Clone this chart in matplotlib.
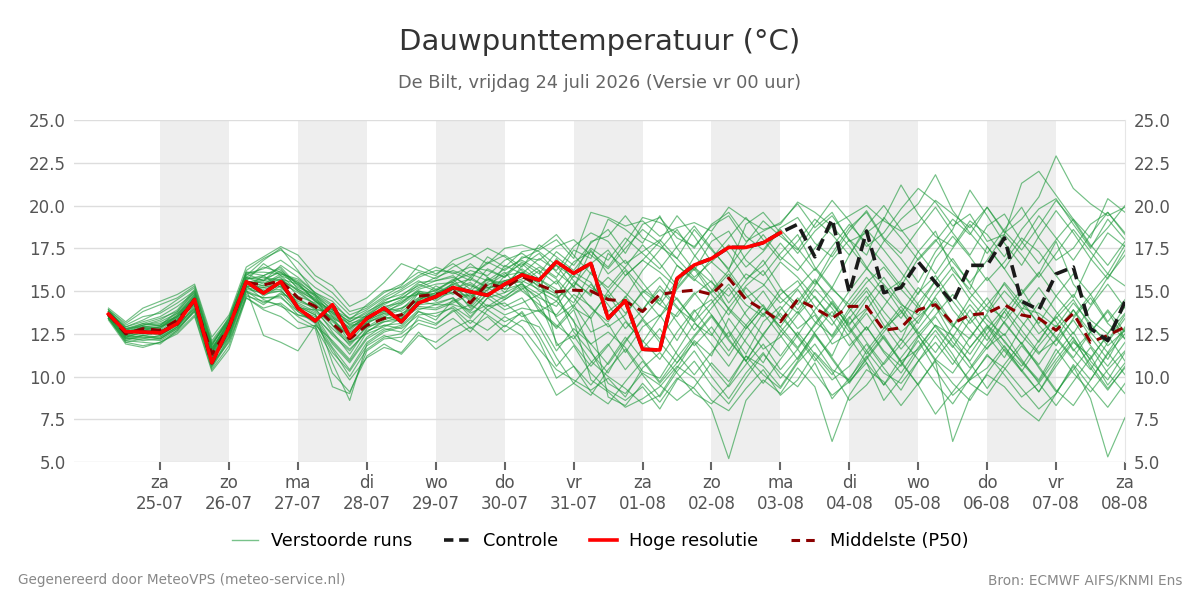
import pandas as pd
import matplotlib
matplotlib.use('Agg')
import matplotlib.pyplot as plt
from matplotlib.lines import Line2D

# tijdas: 6-uurlijkse stappen vanaf vr 24-07 06 uur
times = pd.date_range('2026-07-24 06:00', '2026-08-08 00:00', freq='6h')
days = pd.date_range('2026-07-25', '2026-08-08', freq='D')
weekday_nl = ['ma', 'di', 'wo', 'do', 'vr', 'za', 'zo']

hires = [13.65, 12.62, 12.6, 12.55, 13.1, 14.5, 10.8, 12.9, 15.55, 14.87,
         15.55, 14.0, 13.25, 14.2, 12.33, 13.4, 14.0, 13.2, 14.3, 14.67,
         15.2, 14.96, 14.75, 15.4, 15.94, 15.64, 16.71, 16.03, 16.62, 13.4,
         14.43, 11.59, 11.55, 15.74, 16.52, 16.9, 17.55, 17.55, 17.82, 18.41]

controle = [13.65, 12.62, 12.6, 12.55, 13.1, 14.5, 10.8, 12.9, 15.55, 14.87,
            15.55, 14.0, 13.25, 14.2, 12.33, 13.4, 14.0, 13.2, 14.3, 14.67,
            15.2, 14.96, 14.75, 15.4, 15.94, 15.64, 16.71, 16.03, 16.62, 13.4,
            14.43, 11.59, 11.55, 15.74, 16.52, 16.9, 17.55, 17.55, 17.82, 18.41,
            18.9, 17.0, 19.2, 14.9, 18.5, 14.9, 15.2, 16.7, 15.5, 14.3,
            16.5, 16.5, 18.1, 14.4, 13.9, 16.0, 16.4, 12.8, 12.1, 14.4]

p50 = [13.65, 12.5, 12.8, 12.7, 13.3, 14.4, 11.3, 12.9, 15.5, 15.35,
       15.6, 14.6, 14.1, 13.1, 12.2, 13.0, 13.4, 13.6, 14.7, 14.8,
       15.0, 14.3, 15.45, 15.15, 15.85, 15.35, 14.95, 15.05, 15.0, 14.5,
       14.4, 13.8, 14.8, 14.95, 15.05, 14.8, 15.75, 14.5, 13.9, 13.2,
       14.5, 14.0, 13.4, 14.1, 14.1, 12.7, 12.85, 13.9, 14.2, 13.1,
       13.6, 13.7, 14.2, 13.6, 13.4, 12.7, 13.7, 12.0, 12.4, 12.9]

runs = [
    [13.8, 12.9, 13.2, 13.5, 14.1, 14.9, 11.7, 13.1, 15.8, 16.4, 16.1, 15.2, 14.8, 13.9, 13.2, 13.8, 14.3, 14.6, 15.2, 15.6,
     15.9, 15.1, 16.3, 15.8, 16.7, 16.0, 17.3, 16.5, 17.8, 18.6, 17.2, 18.9, 19.3, 18.1, 17.6, 18.8, 19.4, 17.9, 18.5, 19.0,
     20.1, 18.7, 19.6, 17.9, 18.4, 19.2, 21.2, 19.5, 18.2, 17.6, 19.1, 18.3, 17.0, 18.6, 19.8, 20.4, 18.9, 17.5, 19.2, 18.0],
    [13.5, 12.2, 12.4, 12.3, 12.9, 14.2, 10.9, 12.5, 15.2, 14.8, 15.0, 14.1, 13.6, 12.4, 11.5, 12.7, 13.0, 13.1, 14.2, 14.3,
     14.6, 13.8, 14.9, 14.5, 15.2, 14.0, 12.8, 13.9, 11.5, 9.6, 9.0, 10.2, 9.5, 8.6, 9.4, 10.8, 9.7, 11.2, 10.1, 9.3,
     10.8, 11.9, 10.4, 9.8, 11.5, 10.2, 9.6, 10.9, 12.4, 11.0, 9.8, 10.5, 11.8, 10.3, 9.1, 10.6, 12.0, 11.2, 9.5, 10.8],
    [13.9, 13.1, 13.8, 14.2, 14.6, 15.3, 12.1, 13.4, 16.2, 16.9, 17.4, 16.7, 15.6, 14.9, 13.8, 14.1, 14.9, 15.4, 16.1, 15.7,
     16.4, 16.9, 17.5, 17.0, 16.2, 15.4, 14.8, 16.1, 15.5, 13.8, 14.6, 16.2, 17.4, 18.6, 17.1, 15.9, 14.3, 15.6, 16.8, 15.2,
     13.9, 15.3, 16.8, 18.0, 16.4, 14.9, 15.6, 17.3, 18.5, 16.2, 15.1, 17.6, 16.3, 14.8, 16.0, 17.9, 15.4, 14.2, 15.8, 17.1],
    [13.4, 12.0, 11.8, 12.0, 12.6, 13.6, 10.4, 11.8, 14.8, 14.2, 14.9, 13.8, 13.2, 11.4, 10.3, 11.8, 12.4, 12.0, 13.5, 13.1,
     13.8, 14.2, 13.6, 12.9, 13.8, 12.4, 10.6, 11.8, 10.2, 9.2, 8.6, 9.4, 8.1, 9.8, 10.9, 9.5, 8.4, 9.9, 11.3, 10.2,
     9.4, 10.8, 8.7, 9.9, 11.2, 9.5, 10.7, 12.1, 10.4, 8.9, 9.8, 11.3, 10.1, 8.8, 9.6, 11.0, 12.3, 10.5, 9.2, 10.6],
    [13.7, 12.6, 12.9, 12.8, 13.6, 14.7, 11.5, 13.2, 15.7, 15.9, 16.3, 15.1, 14.4, 13.6, 12.6, 13.3, 13.7, 14.3, 15.0, 14.6,
     15.5, 16.2, 15.9, 16.8, 17.2, 16.5, 15.8, 17.4, 16.9, 19.2, 18.6, 17.8, 19.4, 17.5, 16.2, 17.9, 18.5, 16.8, 15.9, 17.2,
     18.3, 16.4, 15.2, 17.1, 18.6, 17.4, 16.1, 14.8, 16.9, 18.2, 17.0, 15.6, 16.7, 18.1, 17.3, 15.9, 14.6, 16.8, 18.4, 17.6],
    [13.6, 12.3, 12.6, 12.4, 13.0, 14.5, 11.0, 12.7, 15.3, 15.1, 15.4, 14.3, 13.8, 12.8, 11.9, 12.9, 13.2, 13.3, 14.5, 14.9,
     15.2, 14.0, 15.1, 15.6, 15.5, 16.2, 11.8, 12.4, 10.9, 10.0, 9.3, 8.4, 8.9, 10.5, 12.1, 11.2, 13.4, 12.0, 10.8, 12.6,
     13.8, 12.5, 11.2, 13.4, 14.7, 13.0, 11.6, 12.8, 14.1, 12.3, 13.9, 12.4, 11.1, 12.9, 14.3, 13.2, 11.5, 12.6, 13.8, 12.2],
    [14.0, 13.2, 14.0, 14.4, 14.8, 15.4, 12.3, 13.6, 16.4, 17.0, 17.6, 17.1, 15.9, 15.3, 14.1, 14.6, 15.5, 16.6, 16.2, 15.9,
     16.8, 17.2, 16.6, 17.5, 17.7, 17.3, 16.5, 15.8, 17.9, 18.2, 19.4, 18.1, 17.6, 16.9, 18.6, 17.4, 16.3, 17.8, 19.1, 18.2,
     17.4, 18.9, 20.3, 19.1, 17.6, 18.4, 19.8, 21.0, 20.2, 18.8, 19.5, 17.9, 18.3, 21.3, 22.0, 20.6, 19.2, 18.1, 20.4, 19.6],
    [13.5, 12.4, 12.3, 12.2, 12.8, 13.9, 10.6, 12.2, 14.9, 14.6, 14.7, 13.6, 13.4, 11.9, 10.8, 12.2, 12.8, 12.6, 13.8, 13.5,
     14.1, 13.4, 14.6, 13.9, 14.3, 14.8, 13.5, 14.2, 12.6, 13.1, 11.4, 12.9, 13.6, 12.1, 13.8, 14.5, 12.7, 11.3, 13.2, 14.1,
     12.8, 13.6, 11.9, 12.5, 13.7, 12.2, 10.9, 11.6, 13.0, 12.4, 11.3, 12.8, 14.0, 12.7, 11.4, 12.1, 13.3, 11.8, 10.6, 12.0],
    [13.8, 12.8, 13.1, 13.0, 13.8, 15.0, 11.9, 13.3, 16.0, 15.6, 16.5, 15.8, 14.9, 14.2, 13.4, 13.9, 14.6, 15.1, 15.8, 16.2,
     16.1, 15.6, 17.0, 16.4, 17.3, 17.5, 18.3, 17.1, 16.0, 15.2, 16.4, 17.7, 16.6, 15.3, 17.0, 18.4, 17.2, 15.7, 16.5, 17.8,
     16.6, 15.4, 17.2, 18.7, 19.6, 18.0, 16.9, 15.5, 17.3, 18.6, 20.9, 19.4, 17.8, 16.5, 18.2, 19.7, 18.4, 16.9, 15.7, 17.4],
    [13.4, 12.1, 12.0, 11.9, 12.7, 13.8, 10.7, 12.0, 14.6, 13.9, 13.5, 12.8, 13.0, 10.2, 9.1, 11.2, 11.9, 11.3, 12.4, 12.0,
     12.8, 13.3, 12.7, 13.5, 12.9, 11.6, 10.4, 9.8, 9.2, 9.9, 8.8, 10.5, 11.4, 10.2, 9.0, 8.4, 9.5, 11.2, 10.6, 9.4,
     10.9, 12.4, 11.1, 9.7, 10.8, 8.6, 9.9, 11.5, 12.7, 11.3, 9.6, 8.9, 10.4, 11.8, 10.6, 9.2, 8.3, 9.8, 11.4, 10.1],
    [13.6, 12.5, 12.7, 12.9, 13.4, 14.6, 11.2, 12.8, 15.6, 16.6, 15.9, 15.0, 14.5, 13.2, 12.4, 13.1, 13.6, 14.0, 14.4, 15.3,
     14.8, 15.4, 14.7, 15.9, 16.1, 15.2, 16.9, 15.6, 14.7, 17.2, 16.3, 15.1, 14.4, 16.5, 15.7, 14.9, 16.0, 14.6, 15.3, 16.7,
     15.8, 14.6, 13.5, 15.0, 16.3, 15.4, 14.2, 13.6, 15.1, 16.4, 14.9, 13.8, 15.5, 14.3, 13.1, 14.7, 16.0, 14.8, 13.2, 14.5],
    [13.7, 12.7, 13.0, 13.1, 13.5, 14.4, 11.4, 13.0, 15.4, 15.2, 15.5, 14.9, 14.2, 13.4, 12.9, 13.4, 14.0, 14.5, 15.4, 15.0,
     15.7, 14.6, 15.5, 16.1, 15.0, 14.2, 13.6, 14.8, 14.1, 12.9, 13.6, 15.0, 14.2, 13.5, 14.8, 15.6, 13.9, 12.8, 14.0, 13.3,
     14.6, 13.2, 12.4, 14.0, 15.2, 13.8, 12.6, 13.5, 14.4, 13.0, 12.2, 13.7, 15.0, 13.9, 12.5, 13.4, 14.5, 12.9, 12.1, 13.6],
    [13.9, 12.7, 12.5, 12.6, 13.2, 14.3, 11.1, 12.6, 15.1, 12.4, 12.0, 11.5, 13.0, 12.1, 11.0, 12.6, 13.3, 13.7, 14.1, 14.0,
     14.4, 14.9, 14.1, 14.7, 15.3, 14.6, 14.1, 15.5, 14.8, 15.8, 14.9, 13.9, 15.1, 14.0, 13.2, 14.3, 15.4, 14.2, 13.5, 14.8,
     15.6, 14.1, 13.0, 14.5, 15.8, 14.6, 13.4, 14.9, 15.9, 14.4, 13.1, 14.2, 15.4, 14.0, 13.7, 12.9, 14.3, 13.1, 11.8, 12.7],
    [13.5, 12.3, 12.6, 12.5, 13.1, 14.6, 11.3, 12.9, 15.6, 14.7, 15.3, 14.2, 13.7, 10.8, 8.6, 11.9, 12.6, 12.9, 13.8, 13.3,
     14.5, 13.7, 14.2, 13.6, 14.0, 13.8, 14.4, 13.3, 9.8, 9.1, 8.2, 8.7, 9.4, 10.6, 9.9, 8.6, 8.0, 9.3, 10.4, 8.9,
     9.8, 11.4, 10.3, 8.6, 9.5, 10.8, 12.2, 11.0, 9.6, 8.4, 9.9, 11.2, 10.5, 9.3, 8.1, 9.0, 10.7, 9.4, 8.2, 9.6],
    [13.6, 12.6, 13.0, 13.3, 13.9, 15.1, 11.8, 13.5, 16.1, 15.9, 15.2, 14.4, 14.0, 13.5, 12.8, 13.6, 14.4, 15.0, 15.6, 15.1,
     15.6, 16.6, 15.8, 15.1, 16.5, 17.2, 16.1, 15.3, 16.6, 17.4, 15.9, 16.8, 17.9, 19.4, 18.2, 16.7, 15.8, 17.1, 18.3, 17.0,
     16.2, 17.5, 18.8, 17.6, 16.3, 17.9, 19.2, 20.1, 21.8, 19.7, 18.4, 17.2, 18.6, 19.9, 18.1, 16.8, 17.5, 18.9, 19.6, 18.3],
    [13.4, 12.2, 12.2, 12.4, 13.0, 14.0, 10.8, 12.4, 15.0, 14.3, 14.8, 14.6, 13.9, 13.0, 12.0, 12.5, 12.9, 13.4, 14.0, 13.9,
     14.3, 14.8, 13.9, 14.5, 15.1, 15.7, 14.9, 12.6, 11.4, 10.2, 12.0, 13.4, 14.6, 13.2, 11.8, 12.9, 11.5, 13.0, 14.2, 12.7,
     11.6, 13.1, 14.4, 12.8, 11.3, 12.6, 13.9, 12.4, 11.0, 10.2, 11.7, 13.0, 12.1, 10.8, 9.7, 11.3, 12.6, 10.9, 9.8, 11.4],
    [13.8, 12.9, 13.3, 13.8, 14.5, 15.2, 12.0, 13.3, 16.0, 16.3, 16.8, 16.1, 15.2, 14.6, 13.6, 14.0, 14.7, 15.3, 16.5, 16.0,
     16.6, 15.9, 16.6, 17.1, 16.4, 17.7, 17.0, 16.2, 17.5, 16.8, 18.1, 17.2, 16.3, 17.6, 18.8, 17.5, 16.2, 18.9, 19.6, 18.4,
     17.2, 18.5, 19.4, 18.0, 17.1, 19.3, 18.1, 16.8, 17.9, 19.2, 18.3, 19.9, 18.5, 17.4, 18.8, 20.3, 19.1, 17.6, 18.7, 20.0],
    [13.3, 11.9, 11.7, 12.0, 12.5, 13.5, 10.3, 11.6, 14.6, 14.0, 14.3, 13.5, 12.9, 11.2, 9.8, 11.1, 11.7, 11.4, 12.6, 11.6,
     12.3, 12.9, 12.1, 13.0, 12.4, 10.9, 8.9, 9.6, 10.8, 11.9, 10.4, 11.6, 12.8, 11.3, 10.1, 11.4, 12.6, 10.9, 9.6, 11.0,
     12.4, 11.1, 9.8, 10.6, 11.9, 10.5, 9.2, 10.9, 12.0, 10.7, 12.3, 13.6, 12.0, 10.9, 9.8, 11.6, 10.2, 9.1, 10.4, 11.5],
    [13.7, 12.5, 12.9, 12.6, 13.3, 14.2, 11.3, 12.9, 15.4, 15.6, 15.8, 14.7, 14.3, 13.3, 12.3, 13.2, 13.5, 13.9, 14.9, 14.5,
     15.3, 14.4, 15.7, 15.4, 16.3, 15.6, 16.5, 15.2, 17.4, 16.0, 16.8, 15.5, 14.2, 15.6, 16.4, 15.1, 14.0, 15.3, 16.2, 14.6,
     13.7, 15.1, 14.0, 12.6, 13.9, 15.3, 13.8, 12.5, 13.6, 14.8, 13.4, 12.1, 13.8, 15.1, 13.5, 12.2, 13.9, 12.6, 11.4, 12.9],
    [13.6, 12.4, 12.5, 12.7, 13.4, 14.3, 11.4, 13.1, 15.5, 15.3, 15.7, 15.4, 14.4, 13.7, 13.1, 13.4, 14.1, 14.3, 15.1, 15.4,
     15.5, 14.9, 15.3, 16.0, 16.6, 15.7, 15.1, 14.3, 16.1, 15.0, 13.7, 14.9, 15.8, 14.5, 13.3, 15.0, 16.2, 14.8, 13.6, 15.1,
     14.2, 15.6, 14.5, 13.1, 14.0, 12.8, 13.7, 15.2, 14.1, 12.9, 14.6, 15.8, 14.4, 13.2, 12.0, 13.6, 14.8, 13.3, 12.5, 14.1],
    [13.5, 12.3, 12.1, 12.2, 12.9, 14.1, 11.0, 12.3, 15.2, 15.0, 15.1, 13.9, 13.5, 12.5, 11.6, 12.6, 13.2, 13.5, 14.4, 14.2,
     14.6, 13.5, 14.6, 14.9, 15.4, 14.8, 15.6, 14.0, 13.4, 8.8, 8.3, 9.6, 8.5, 9.9, 9.3, 8.1, 5.2, 8.6, 9.8, 9.0,
     10.5, 9.4, 6.2, 8.9, 10.4, 9.7, 8.3, 9.6, 10.9, 6.2, 8.8, 10.1, 9.4, 8.2, 7.4, 9.0, 10.6, 8.7, 5.3, 7.6],
    [13.9, 13.0, 13.5, 13.7, 14.3, 15.0, 11.9, 13.2, 15.8, 15.4, 16.0, 15.6, 14.7, 13.9, 13.2, 13.7, 14.5, 14.8, 15.3, 15.8,
     16.2, 15.8, 16.7, 16.2, 16.9, 17.4, 18.0, 16.9, 19.6, 19.3, 18.8, 19.1, 18.2, 18.7, 19.0, 18.5, 19.9, 19.2, 18.6, 18.9,
     20.2, 19.6, 18.8, 19.4, 20.0, 19.1, 18.5, 19.0, 20.3, 19.5, 18.7, 19.9, 18.4, 19.2, 20.5, 22.9, 21.0, 20.1, 19.4, 19.9],
    [13.6, 12.6, 12.8, 12.9, 13.6, 14.8, 11.6, 13.0, 15.7, 15.8, 15.6, 15.1, 14.6, 13.7, 12.7, 13.5, 13.8, 14.2, 14.9, 14.7,
     15.1, 15.5, 14.8, 15.6, 15.9, 15.0, 14.4, 15.9, 15.2, 14.6, 15.9, 16.8, 16.1, 15.2, 16.4, 15.5, 14.7, 16.0, 15.4, 14.3,
     15.2, 16.3, 15.1, 14.2, 15.5, 16.4, 15.1, 14.0, 15.6, 16.9, 15.4, 14.1, 13.4, 14.9, 16.1, 14.7, 13.5, 14.8, 16.0, 15.3],
    [13.4, 12.1, 12.4, 12.2, 12.8, 13.8, 10.5, 12.1, 14.7, 14.4, 14.2, 13.2, 12.8, 9.4, 9.0, 11.5, 12.2, 12.3, 13.1, 12.8,
     13.4, 12.6, 13.9, 13.2, 13.7, 12.1, 9.9, 10.6, 9.1, 8.4, 9.7, 10.9, 9.6, 10.8, 12.0, 10.6, 9.4, 10.7, 11.9, 10.4,
     11.6, 10.2, 8.9, 9.7, 11.0, 12.3, 10.8, 9.5, 7.8, 9.1, 10.4, 11.7, 12.5, 11.0, 9.6, 8.3, 9.7, 11.1, 12.4, 10.9],
    [13.8, 12.8, 13.0, 13.2, 13.7, 14.5, 11.7, 12.8, 15.5, 15.7, 16.1, 15.5, 14.8, 14.1, 13.0, 13.6, 14.2, 14.7, 15.5, 15.6,
     15.8, 15.3, 15.0, 16.5, 16.0, 16.9, 16.2, 17.6, 18.4, 17.9, 16.6, 17.3, 18.0, 16.9, 15.8, 16.7, 17.7, 16.4, 17.3, 18.6,
     17.5, 16.2, 17.6, 18.9, 17.8, 16.6, 15.3, 16.9, 18.0, 16.7, 15.5, 16.8, 18.3, 17.1, 15.8, 17.2, 18.6, 17.3, 16.0, 17.7],
    [13.5, 12.4, 12.7, 12.5, 13.2, 14.4, 11.2, 12.7, 15.3, 15.2, 15.4, 14.5, 14.0, 12.6, 11.3, 12.8, 13.4, 13.6, 14.6, 14.6,
     14.9, 14.7, 15.2, 15.3, 15.6, 15.1, 14.7, 13.2, 11.9, 12.6, 11.7, 10.3, 9.9, 11.5, 13.1, 12.4, 14.0, 13.0, 11.6, 12.3,
     13.6, 14.7, 13.3, 11.8, 12.9, 11.5, 10.6, 12.3, 13.5, 12.0, 10.9, 12.5, 13.8, 12.4, 11.3, 12.7, 13.9, 12.3, 11.0, 12.8],
    [13.7, 12.6, 12.8, 12.6, 13.3, 14.5, 11.5, 13.2, 15.5, 15.5, 15.7, 15.0, 14.2, 13.3, 12.5, 13.3, 13.9, 14.4, 15.0, 14.8,
     15.4, 15.0, 15.7, 15.1, 15.4, 14.4, 12.0, 10.6, 9.5, 10.8, 12.3, 11.0, 9.7, 11.1, 12.4, 13.6, 12.2, 10.9, 12.5, 13.7,
     12.3, 10.9, 12.2, 13.5, 12.0, 10.7, 11.9, 13.3, 14.6, 13.1, 11.7, 12.9, 11.5, 10.3, 11.8, 13.0, 11.6, 10.4, 12.0, 13.4],
    [13.6, 12.7, 13.1, 13.4, 13.8, 14.9, 11.8, 13.4, 16.1, 16.1, 16.0, 15.7, 14.9, 14.4, 13.3, 14.2, 15.0, 15.2, 15.9, 16.4,
     16.0, 16.4, 16.2, 15.8, 17.0, 16.8, 17.6, 18.0, 17.1, 16.3, 17.5, 18.6, 17.8, 16.5, 15.6, 16.9, 18.1, 19.3, 18.0, 16.8,
     17.9, 19.2, 18.3, 17.1, 18.8, 20.0, 18.6, 17.3, 16.0, 17.5, 18.9, 17.6, 16.3, 17.8, 19.4, 18.1, 16.8, 18.3, 19.6, 18.4],
    [13.5, 12.2, 12.3, 12.3, 12.9, 14.0, 10.9, 12.5, 15.1, 14.9, 15.0, 14.1, 13.6, 12.0, 10.9, 12.3, 13.0, 12.8, 13.6, 13.7,
     14.0, 13.1, 14.1, 14.3, 13.5, 13.9, 13.0, 12.2, 13.6, 14.8, 13.3, 12.0, 13.5, 14.6, 13.2, 11.9, 10.6, 12.2, 13.7, 12.4,
     11.0, 12.6, 13.8, 12.3, 10.8, 9.5, 11.1, 12.4, 10.9, 9.6, 8.6, 10.2, 11.6, 10.4, 9.1, 10.8, 12.1, 10.7, 9.3, 10.5],
    [13.7, 12.8, 12.9, 13.0, 13.5, 14.7, 11.6, 13.3, 15.8, 15.6, 16.2, 15.4, 14.5, 13.8, 12.8, 13.5, 14.3, 14.6, 14.8, 15.0,
     15.6, 16.0, 15.6, 16.3, 16.8, 16.2, 15.4, 16.7, 17.3, 16.4, 17.8, 19.3, 19.0, 18.4, 17.5, 18.9, 19.6, 18.2, 17.4, 18.7,
     19.3, 17.8, 17.0, 18.5, 19.7, 18.1, 17.2, 18.6, 19.9, 18.4, 17.1, 18.8, 19.5, 17.9, 16.6, 18.0, 19.2, 17.7, 16.5, 17.9],
    [13.6, 12.5, 12.6, 12.8, 13.5, 14.6, 11.4, 13.0, 15.9, 16.8, 17.5, 16.2, 14.8, 13.5, 12.0, 13.2, 13.8, 14.0, 14.6, 15.1,
     14.9, 15.8, 15.2, 14.6, 15.5, 13.8, 12.9, 14.1, 15.4, 14.2, 12.8, 13.9, 15.3, 14.1, 12.7, 14.0, 15.2, 13.6, 12.4, 13.9,
     15.1, 13.7, 12.3, 13.8, 15.0, 13.4, 12.1, 14.3, 15.6, 13.9, 12.7, 11.6, 13.2, 14.5, 13.0, 11.8, 13.4, 14.6, 13.1, 12.2],
    [13.5, 12.4, 12.9, 13.0, 13.7, 14.8, 11.1, 12.6, 15.2, 15.9, 16.4, 15.3, 14.7, 13.0, 11.8, 12.9, 13.5, 13.2, 14.4, 14.8,
     15.3, 14.5, 15.8, 14.9, 16.1, 15.5, 13.4, 11.9, 10.6, 11.8, 13.2, 12.1, 11.0, 12.6, 13.9, 12.5, 11.2, 12.8, 14.0, 12.9,
     11.7, 13.0, 14.3, 12.9, 11.5, 12.8, 14.1, 12.6, 11.4, 12.9, 14.2, 13.0, 11.7, 10.6, 12.1, 13.5, 12.2, 11.0, 12.5, 13.7],
    [13.7, 12.7, 12.7, 12.9, 13.3, 14.3, 11.5, 12.9, 15.6, 15.0, 15.3, 14.0, 13.9, 13.8, 13.0, 13.1, 13.7, 13.4, 14.9, 14.4,
     15.1, 14.1, 15.4, 15.6, 15.9, 15.3, 14.6, 15.3, 14.0, 13.2, 14.7, 13.4, 12.2, 13.7, 14.9, 13.6, 12.3, 13.8, 15.0, 13.5,
     12.4, 13.9, 15.2, 14.0, 12.7, 14.1, 15.5, 14.2, 12.9, 11.7, 13.3, 14.6, 13.1, 11.9, 13.4, 12.3, 11.1, 12.6, 13.9, 12.6],
    [13.6, 12.3, 12.4, 12.6, 13.1, 14.4, 11.0, 12.6, 15.3, 14.5, 14.1, 13.6, 13.3, 11.7, 10.4, 12.0, 12.7, 13.0, 13.9, 14.2,
     14.2, 13.9, 14.8, 14.1, 14.6, 13.2, 11.5, 12.8, 11.9, 10.7, 12.1, 13.3, 12.0, 10.8, 12.3, 13.5, 12.1, 10.9, 12.4, 11.2,
     12.6, 11.3, 10.1, 11.6, 12.9, 11.4, 10.2, 11.7, 13.0, 11.8, 10.5, 11.9, 13.2, 11.9, 10.7, 12.2, 11.0, 9.8, 11.3, 12.5],
    [13.8, 12.6, 12.8, 12.9, 13.5, 14.6, 11.6, 13.2, 15.6, 15.3, 15.9, 15.5, 14.4, 13.9, 13.4, 13.5, 14.0, 13.8, 14.5, 14.9,
     15.4, 15.7, 15.2, 15.4, 15.7, 16.4, 15.7, 14.6, 13.4, 15.0, 16.2, 14.7, 13.5, 15.1, 16.3, 14.8, 13.6, 15.2, 14.1, 12.9,
     14.4, 15.7, 14.2, 13.0, 14.5, 15.8, 14.3, 13.1, 14.7, 16.0, 14.5, 13.3, 12.4, 13.9, 15.2, 13.8, 12.5, 14.1, 15.4, 14.0],
    [13.4, 12.0, 12.2, 12.1, 12.7, 13.9, 10.6, 12.3, 15.0, 14.6, 14.6, 13.8, 13.1, 11.6, 10.0, 11.6, 12.3, 12.5, 13.3, 13.0,
     13.9, 12.8, 13.5, 12.6, 13.3, 12.9, 11.1, 9.6, 8.9, 10.4, 11.6, 10.1, 8.8, 10.3, 11.5, 10.0, 8.7, 10.2, 11.4, 9.9,
     11.1, 12.5, 11.0, 9.6, 11.1, 12.4, 10.9, 9.5, 11.0, 12.3, 10.8, 9.3, 10.7, 12.0, 10.5, 9.1, 10.4, 11.7, 10.2, 9.0],
]


def main():
    fig = plt.figure(figsize=(12, 6), dpi=100)
    ax = fig.add_axes([74 / 1200, 1 - 462 / 600, (1125 - 74) / 1200, (462 - 120) / 600])

    # afwisselend grijze dagbanden
    for k in range(0, len(days) - 1, 2):
        ax.axvspan(days[k], days[k + 1], color='#eeeeee', lw=0, zorder=0)

    for r in runs:
        ax.plot(times[:len(r)], r, color='#1f9a3c', lw=0.85, alpha=0.62, zorder=2)

    ax.plot(times[:len(p50)], p50, color='#8b0000', lw=2.2, ls=(0, (3.5, 2.2)), zorder=3)
    ax.plot(times[:len(controle)], controle, color='#1a1a1a', lw=2.6, ls=(0, (3.5, 1.8)), zorder=4)
    ax.plot(times[:len(hires)], hires, color='#ff0000', lw=2.6, zorder=5)

    ax.set_xlim(pd.Timestamp('2026-07-23 18:00'), pd.Timestamp('2026-08-08 00:00'))
    ax.set_ylim(5, 25)
    ax.set_yticks([5, 7.5, 10, 12.5, 15, 17.5, 20, 22.5, 25])
    ax.yaxis.set_major_formatter(plt.FormatStrFormatter('%.1f'))
    ax.set_xticks(days)
    ax.set_xticklabels([weekday_nl[d.weekday()] + '\n' + d.strftime('%d-%m') for d in days])

    ax.grid(axis='y', color='#dddddd', lw=1)
    ax.set_axisbelow(True)
    for s in ['left', 'top', 'bottom']:
        ax.spines[s].set_visible(False)
    ax.spines['right'].set_color('#e6e6e6')

    ax.tick_params(axis='y', length=0, labelsize=12, labelcolor='#555555', pad=6,
                   labelleft=True, labelright=True)
    ax.tick_params(axis='x', length=6, width=1.5, color='#666666', labelsize=12,
                   labelcolor='#555555', pad=3)

    fig.text(0.5, 1 - 42 / 600, 'Dauwpunttemperatuur (°C)', ha='center', va='center',
             fontsize=21, color='#333333')
    fig.text(0.5, 1 - 83 / 600, 'De Bilt, vrijdag 24 juli 2026 (Versie vr 00 uur)',
             ha='center', va='center', fontsize=12.8, color='#666666')

    handles = [Line2D([], [], color='#1f9a3c', lw=1, alpha=0.6),
               Line2D([], [], color='#1a1a1a', lw=2.6, ls=(0, (2.6, 1.6))),
               Line2D([], [], color='#ff0000', lw=2.6),
               Line2D([], [], color='#8b0000', lw=2.2, ls=(0, (2.8, 2.0)))]
    labels = ['Verstoorde runs', 'Controle', 'Hoge resolutie', 'Middelste (P50)']
    fig.legend(handles, labels, loc='center', bbox_to_anchor=(0.5, 1 - 541 / 600), ncol=4,
               frameon=False, fontsize=12.8, handlelength=1.5, handletextpad=0.7,
               columnspacing=1.8)

    fig.text(18 / 1200, 1 - 580 / 600, 'Gegenereerd door MeteoVPS (meteo-service.nl)',
             ha='left', va='center', fontsize=9.8, color='#888888')
    fig.text(1182 / 1200, 1 - 580 / 600, 'Bron: ECMWF AIFS/KNMI Ens',
             ha='right', va='center', fontsize=9.8, color='#888888')

    fig.savefig('out.png', dpi=100)


if __name__ == '__main__':
    main()
